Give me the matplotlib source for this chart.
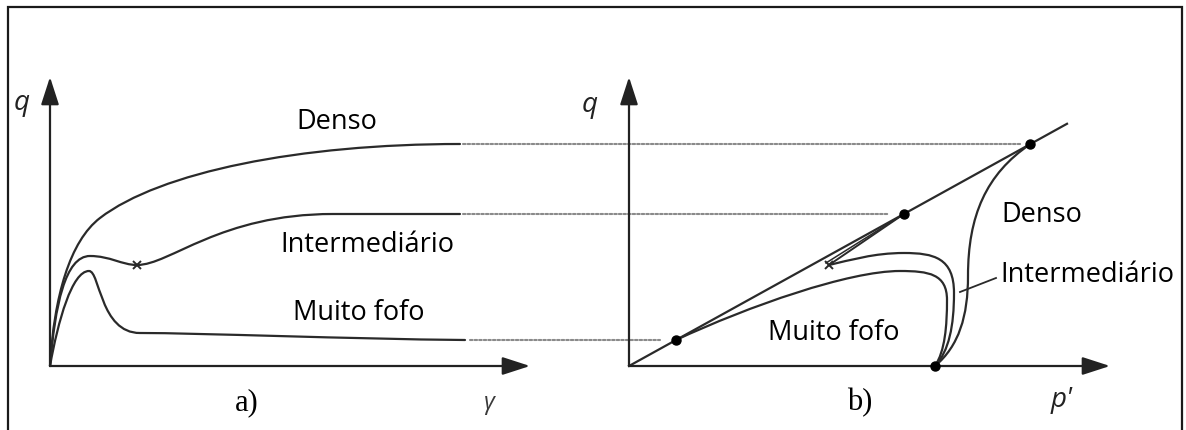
import matplotlib
matplotlib.use('Agg')
import matplotlib.pyplot as plt
import matplotlib.transforms as mtransforms
from matplotlib.path import Path
from matplotlib.patches import PathPatch, Rectangle, ConnectionPatch

# residual (critical state) deviator stress reached by each sample
q_dense, q_inter, q_loose = 222, 152, 26
# slope of the critical state line in the q-p' plane
csl_slope = 0.553
# common initial mean effective stress of the three samples
p_start = 306
# quasi-steady state point of the intermediate sample
q_qss = 101
gamma_qss = 87
p_qss = 200

# q-gamma curves, cubic Bezier vertices (gamma, q)
dense_a = [(0, 0), (4, 70), (20, 125), (50, 148),
           (110, 194), (250, q_dense), (410, q_dense)]
inter_a = [(0, 0), (5, 60), (15, 110), (40, 110),
           (60, 110), (72, q_qss), (gamma_qss, q_qss),
           (120, q_qss), (170, q_inter), (283, q_inter),
           (320, q_inter), (370, q_inter), (410, q_inter)]
loose_a = [(0, 0), (8, 45), (22, 95), (39, 95),
           (50, 95), (50, 33), (90, 33),
           (150, 33), (300, 27), (415, q_loose)]

# stress paths, cubic Bezier vertices (p', q)
dense_b = [(p_start, 0), (330, 20), (339, 50), (339, 90),
           (339, 150), (357, 192), (q_dense / csl_slope, q_dense)]
inter_b = [(p_start, 0), (320, 15), (325, 40), (325, 73),
           (325, 108), (305, 113), (275, 113),
           (245, 113), (222, 106), (p_qss, q_qss)]
loose_b = [(p_start, 0), (316, 15), (318, 40), (318, 66),
           (318, 92), (300, 95), (271, 95),
           (220, 95), (120, 60), (q_loose / csl_slope, q_loose)]

CURVE = '#2a2a2a'
AXIS = '#222222'

fig = plt.figure(figsize=(11.86, 4.30), dpi=100)
ax = fig.add_axes([0, 0, 1, 1])
ax.set_xlim(0, 1186)
ax.set_ylim(-64, 366)
ax.axis('off')

# each panel has its own origin, both share the q scale
panel_a = mtransforms.Affine2D().translate(50, 0) + ax.transData
panel_b = mtransforms.Affine2D().translate(629, 0) + ax.transData

label_font = dict(family='Open Sans', fontsize=19.5, color='black')
sym_font = dict(family='Open Sans', style='italic', fontsize=20, color='#222222')
tag_font = dict(family='Liberation Serif', fontsize=22, color='black')


def bezier(points, tr):
    codes = [Path.MOVETO] + [Path.CURVE4] * (len(points) - 1)
    ax.add_patch(PathPatch(Path(points, codes), fill=False, lw=1.6,
                           edgecolor=CURVE, transform=tr, capstyle='round'))


def axis_arrow(tip, tr):
    ax.annotate('', xy=tip, xytext=(0, 0), xycoords=tr, textcoords=tr,
                arrowprops=dict(arrowstyle='-|>,head_length=1.7,head_width=0.55',
                                mutation_scale=10, lw=1.6, color=AXIS,
                                shrinkA=0, shrinkB=0))


# frame round the whole figure
ax.add_patch(Rectangle((8, -80), 1174, 439, fill=False, lw=1.6, edgecolor='#1a1a1a'))

# --- a) q versus gamma
axis_arrow((0, 289), panel_a)
axis_arrow((480, 0), panel_a)
for pts in (dense_a, inter_a, loose_a):
    bezier(pts, panel_a)
ax.plot([gamma_qss], [q_qss], marker='x', ms=6, mew=1.4, color=CURVE, transform=panel_a)

ax.text(287, 244, 'Denso', ha='center', va='center', transform=panel_a, **label_font)
ax.text(317, 121, 'Intermediário', ha='center', va='center', transform=panel_a, **label_font)
ax.text(309, 53, 'Muito fofo', ha='center', va='center', transform=panel_a, **label_font)
ax.text(-28, 263, 'q', ha='center', va='center', transform=panel_a, **sym_font)
ax.text(438, -37, 'γ', ha='center', va='center', transform=panel_a,
        family='Open Sans', style='italic', fontsize=17, color='#3a3a3a')
ax.text(197, -37, 'a)', ha='center', va='center', transform=panel_a, **tag_font)

# --- b) stress paths in the q-p' plane
axis_arrow((0, 289), panel_b)
axis_arrow((481, 0), panel_b)
ax.plot([0, 438], [0, 438 * csl_slope], lw=1.6, color=CURVE, transform=panel_b)
for pts in (dense_b, inter_b, loose_b):
    bezier(pts, panel_b)

# path from the quasi-steady state back up to the critical state line
p_inter = q_inter / csl_slope
ax.plot([p_qss, p_inter], [q_qss, q_inter], lw=1.4, color=CURVE, transform=panel_b)
ax.plot([p_qss - 3, p_inter], [q_qss + 2, q_inter], lw=1.1, color=CURVE, transform=panel_b)
ax.plot([p_qss], [q_qss], marker='x', ms=6, mew=1.4, color=CURVE, transform=panel_b)

ends_p = [q / csl_slope for q in (q_dense, q_inter, q_loose)] + [p_start]
ends_q = [q_dense, q_inter, q_loose, 0]
ax.plot(ends_p, ends_q, 'o', ms=6.5, color='black', transform=panel_b, zorder=5)

# leader for the intermediate label
ax.plot([331, 367], [74, 88], lw=1.3, color=CURVE, transform=panel_b)

ax.text(413, 151, 'Denso', ha='center', va='center', transform=panel_b, **label_font)
ax.text(371, 91, 'Intermediário', ha='left', va='center', transform=panel_b, **label_font)
ax.text(205, 33, 'Muito fofo', ha='center', va='center', transform=panel_b, **label_font)
ax.text(-39, 261, 'q', ha='center', va='center', transform=panel_b, **sym_font)
ax.text(433, -34, "p'", ha='center', va='center', transform=panel_b, **sym_font)
ax.text(231, -37, 'b)', ha='center', va='center', transform=panel_b, **tag_font)

# dotted links carrying each residual q from a) to b)
for q, gap in ((q_dense, 10), (q_inter, 16), (q_loose, 16)):
    start_gamma = 413 if q != q_loose else 420
    link = ConnectionPatch((start_gamma, q), (q / csl_slope - gap, q),
                           coordsA=panel_a, coordsB=panel_b,
                           lw=1.5, color='#8a8a8a', linestyle=(0, (1.2, 1.0)))
    ax.add_artist(link)

fig.savefig('out.png', dpi=100, facecolor='white')
